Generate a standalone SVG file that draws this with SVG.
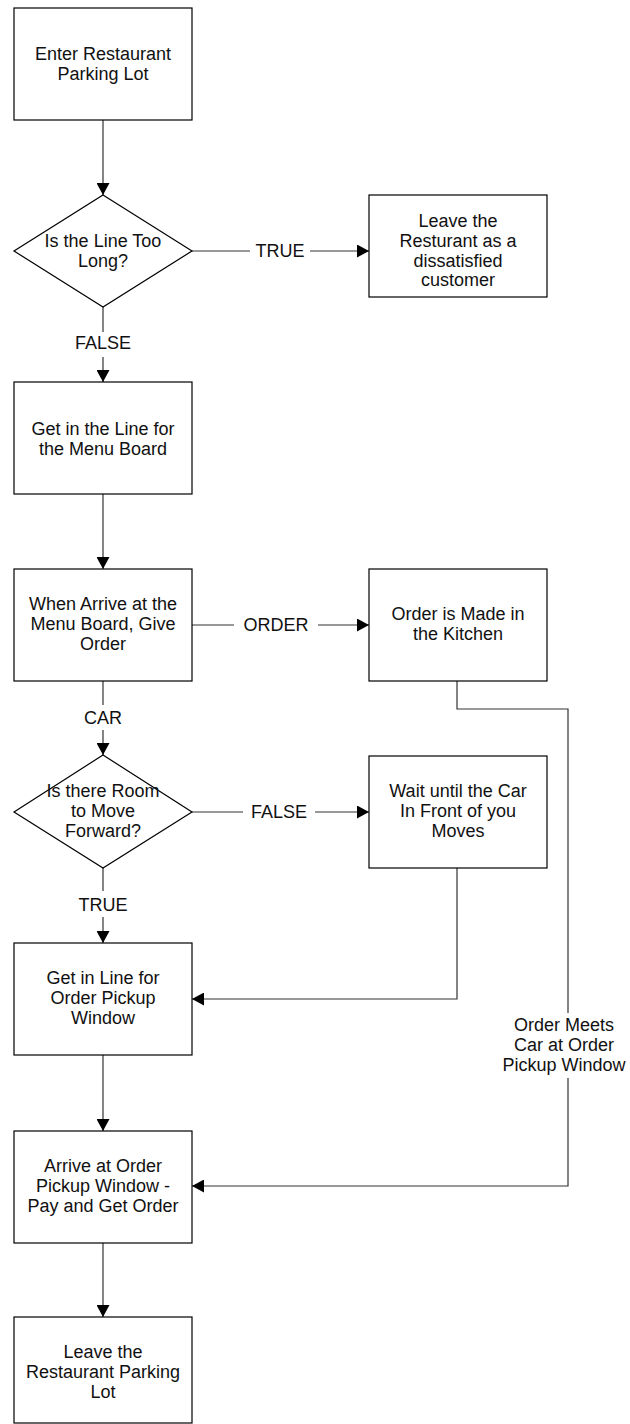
<svg xmlns="http://www.w3.org/2000/svg" width="630" height="1424" viewBox="0 0 630 1424">
<style>
.box{fill:#fff;stroke:#000;stroke-width:1.2}
.t{font-family:"Liberation Sans",Arial,sans-serif;font-size:18px;fill:#111;text-anchor:middle}
.c{fill:none;stroke:#333;stroke-width:1.2}
</style>
<defs>
<marker id="ah" markerWidth="13" markerHeight="13" refX="12" refY="6.5" orient="auto" markerUnits="userSpaceOnUse">
<path d="M0,0 L12,6.5 L0,13 Z" fill="#000"/>
</marker>
</defs>
<rect width="630" height="1424" fill="#fff"/>
<g id="connectors">
<path class="c" d="M103,120 V195" marker-end="url(#ah)"/>
<path class="c" d="M192,251 H250"/>
<path class="c" d="M310,251 H369" marker-end="url(#ah)"/>
<text class="t" x="280" y="257">TRUE</text>
<path class="c" d="M103,307 V332"/>
<path class="c" d="M103,357 V382" marker-end="url(#ah)"/>
<text class="t" x="103" y="349">FALSE</text>
<path class="c" d="M103,494 V569" marker-end="url(#ah)"/>
<path class="c" d="M192,625 H234"/>
<path class="c" d="M318,625 H369" marker-end="url(#ah)"/>
<text class="t" x="276" y="631">ORDER</text>
<path class="c" d="M103,681 V705"/>
<path class="c" d="M103,730 V755" marker-end="url(#ah)"/>
<text class="t" x="103" y="724">CAR</text>
<path class="c" d="M192,812 H243"/>
<path class="c" d="M315,812 H369" marker-end="url(#ah)"/>
<text class="t" x="279" y="818">FALSE</text>
<path class="c" d="M103,867 V891"/>
<path class="c" d="M103,917 V943" marker-end="url(#ah)"/>
<text class="t" x="103" y="911">TRUE</text>
<path class="c" d="M457,868 V999 H192" marker-end="url(#ah)"/>
<path class="c" d="M103,1055 V1131" marker-end="url(#ah)"/>
<path class="c" d="M457,681 V709 H568 V1013"/>
<path class="c" d="M568,1078 V1186 H192" marker-end="url(#ah)"/>
<text class="t" x="564" y="1031">Order Meets</text>
<text class="t" x="564" y="1051">Car at Order</text>
<text class="t" x="564" y="1071">Pickup Window</text>
<path class="c" d="M103,1243 V1317" marker-end="url(#ah)"/>
</g>
<g id="n1"><rect class="box" x="14" y="8" width="178" height="112"/>
<text class="t" x="103" y="60">Enter Restaurant</text><text class="t" x="103" y="80">Parking Lot</text></g>
<g id="n2"><path class="box" d="M103,195 L192,251 L103,307 L14,251 Z"/>
<text class="t" x="103" y="247">Is the Line Too</text><text class="t" x="103" y="267">Long?</text></g>
<g id="n3"><rect class="box" x="369" y="195" width="178" height="102"/>
<text class="t" x="458" y="227">Leave the</text><text class="t" x="458" y="247">Resturant as a</text><text class="t" x="458" y="267">dissatisfied</text><text class="t" x="458" y="286">customer</text></g>
<g id="n4"><rect class="box" x="14" y="382" width="178" height="112"/>
<text class="t" x="103" y="435">Get in the Line for</text><text class="t" x="103" y="455">the Menu Board</text></g>
<g id="n5"><rect class="box" x="14" y="569" width="178" height="112"/>
<text class="t" x="103" y="610">When Arrive at the</text><text class="t" x="103" y="630">Menu Board, Give</text><text class="t" x="103" y="650">Order</text></g>
<g id="n6"><rect class="box" x="369" y="569" width="178" height="112"/>
<text class="t" x="458" y="620">Order is Made in</text><text class="t" x="458" y="640">the Kitchen</text></g>
<g id="n7"><path class="box" d="M103,755 L192,812 L103,868 L14,812 Z"/>
<text class="t" x="103" y="797">Is there Room</text><text class="t" x="103" y="817">to Move</text><text class="t" x="103" y="837">Forward?</text></g>
<g id="n8"><rect class="box" x="369" y="756" width="178" height="112"/>
<text class="t" x="458" y="797">Wait until the Car</text><text class="t" x="458" y="817">In Front of you</text><text class="t" x="458" y="837">Moves</text></g>
<g id="n9"><rect class="box" x="14" y="943" width="178" height="112"/>
<text class="t" x="103" y="984">Get in Line for</text><text class="t" x="103" y="1004">Order Pickup</text><text class="t" x="103" y="1024">Window</text></g>
<g id="n10"><rect class="box" x="14" y="1131" width="178" height="112"/>
<text class="t" x="103" y="1172">Arrive at Order</text><text class="t" x="103" y="1192">Pickup Window -</text><text class="t" x="103" y="1212">Pay and Get Order</text></g>
<g id="n11"><rect class="box" x="14" y="1317" width="178" height="106"/>
<text class="t" x="103" y="1358">Leave the</text><text class="t" x="103" y="1378">Restaurant Parking</text><text class="t" x="103" y="1398">Lot</text></g>
</svg>
